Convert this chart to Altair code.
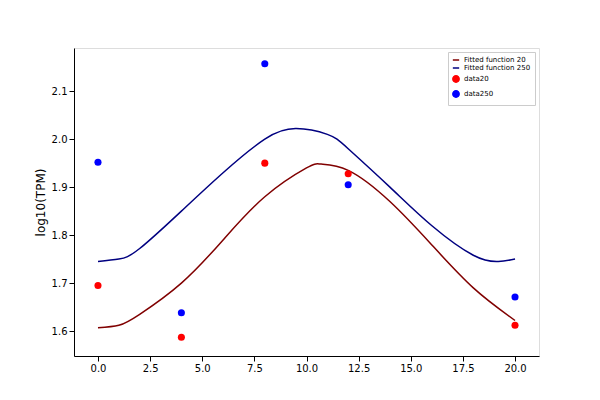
import altair as alt
import pandas as pd

# fitted curves, values
fit_x20 = [0, 1, 2, 4, 6, 8, 10, 10.7, 12, 14, 16, 18, 20]
fit_y20 = [1.607, 1.612, 1.635, 1.70, 1.79, 1.88, 1.94, 1.948, 1.935, 1.87, 1.78, 1.69, 1.622]
fit_x250 = [0, 1, 2, 4, 6, 8, 9.5, 11, 12, 14, 16, 18, 19.2, 20]
fit_y250 = [1.745, 1.75, 1.772, 1.85, 1.93, 2.00, 2.022, 2.01, 1.98, 1.90, 1.82, 1.758, 1.745, 1.75]

# measured points
pt_x = [0, 4, 8, 12, 20]
pt_y20 = [1.695, 1.587, 1.95, 1.928, 1.612]
pt_y250 = [1.952, 1.638, 2.157, 1.905, 1.671]

names = ["Fitted function 20", "Fitted function 250", "data20", "data250"]
colors = ["#800000", "#000080", "#ff0000", "#0000ff"]
shapes = ["stroke", "stroke", "circle", "circle"]

lines = pd.concat([
    pd.DataFrame({"x": fit_x20, "y": fit_y20, "s": names[0]}),
    pd.DataFrame({"x": fit_x250, "y": fit_y250, "s": names[1]}),
])
points = pd.concat([
    pd.DataFrame({"x": pt_x, "y": pt_y20, "s": names[2]}),
    pd.DataFrame({"x": pt_x, "y": pt_y250, "s": names[3]}),
])

xs = alt.Scale(domain=[-1.15, 21.15], nice=False, zero=False)
ys = alt.Scale(domain=[1.548, 2.19], nice=False, zero=False)
xax = alt.Axis(values=[0, 2.5, 5, 7.5, 10, 12.5, 15, 17.5, 20], format=".1f", title=None,
               grid=False, labelFontSize=10, labelColor="black", tickColor="black", domainColor="black")
yax = alt.Axis(values=[1.6, 1.7, 1.8, 1.9, 2.0, 2.1], format=".1f", title="log10(TPM)",
               grid=False, labelFontSize=10, titleFontSize=12, titleFontWeight="normal",
               labelColor="black", tickColor="black", domainColor="black", titleColor="black")
col = alt.Color("s:N", scale=alt.Scale(domain=names, range=colors),
                legend=alt.Legend(title=None, orient="top-right", labelFontSize=7,
                                  strokeColor="#cccccc", fillColor="white", padding=4,
                                  symbolSize=40, offset=4, rowPadding=1))
shp = alt.Shape("s:N", scale=alt.Scale(domain=names, range=shapes))

line = alt.Chart(lines).mark_line(interpolate="natural", strokeWidth=1.5).encode(
    x=alt.X("x:Q", scale=xs, axis=xax), y=alt.Y("y:Q", scale=ys, axis=yax),
    color=col, shape=shp, detail="s:N")
pts = alt.Chart(points).mark_point(filled=True, size=50, opacity=1).encode(
    x=alt.X("x:Q", scale=xs), y=alt.Y("y:Q", scale=ys), color=col, shape=shp)

chart = alt.layer(line, pts).properties(
    width=465, height=308, padding={"left": 26, "top": 40, "right": 50, "bottom": 36}
).configure_view(stroke="black", strokeWidth=1).configure(font="DejaVu Sans")
chart.save("out.html", embed_options={"renderer": "svg", "actions": False})
